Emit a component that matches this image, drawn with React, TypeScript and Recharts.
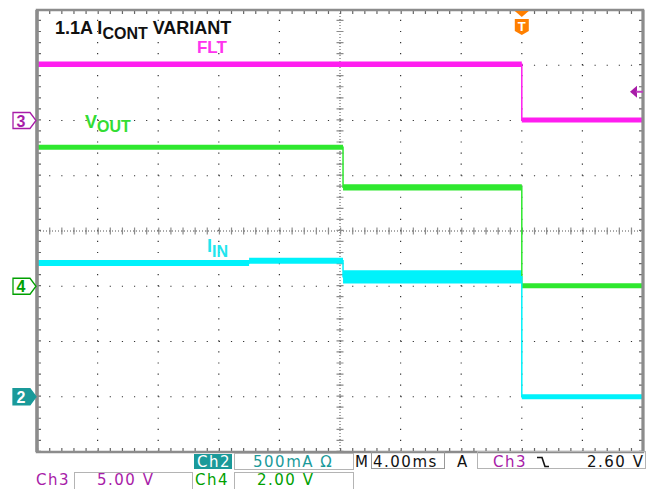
import React from "react";
import { Area, ComposedChart, Line, ReferenceArea, ReferenceDot, ReferenceLine, XAxis, YAxis } from "recharts";

// scope frame: 10 x 4 ms horizontally, 8 divisions vertically
const timeTicksMs = [0, 4, 8, 12, 16, 20, 24, 28, 32, 36, 40];
const divTicks = [0, 1, 2, 3, 4, 5, 6, 7, 8];

// Ch3 = FLT, 5 V/div, ground marker at div 6
const fltEdgesMs = [0, 32, 40];
const fltLevelsV = [5.1, 0.05];
const fltRippleV = [0.5, 0.45];

// Ch4 = VOUT, 2 V/div, ground marker at div 3
const voutEdgesMs = [0, 20.2, 32, 40];
const voutLevelsV = [5.03, 3.58, 0.02];
const voutRippleV = [0.18, 0.22, 0.18];

// Ch2 = IIN, 500 mA/div, ground marker at div 1
const iinEdgesMs = [0, 14, 20.2, 32, 40];
const iinLevelsA = [1.21, 1.23, 1.085, 0.0];
const iinRippleA = [0.055, 0.055, 0.12, 0.045];

const triggerMs = 32;
const triggerLevelV = 2.6;

const W = 659;
const H = 489;
const M = { top: 10, right: 16, bottom: 37, left: 37 };
const plotW = W - M.left - M.right;
const plotH = H - M.top - M.bottom;
const hStep = plotW / 50; // 5 minor steps per division
const vStep = plotH / 40;

const chDomain = (perDiv: number, groundDiv: number) => [-groundDiv * perDiv, (8 - groundDiv) * perDiv];

const stepData = (edges: number[], levels: number[]) =>
  edges.map((t, i) => ({ t, v: levels[Math.min(i, levels.length - 1)] }));

const bandData = (edges: number[], levels: number[], ripple: number[]) =>
  levels.map((v, i) =>
    [edges[i], edges[i + 1]].map((t) => ({ t, band: [v - ripple[i] / 2, v + ripple[i] / 2] }))
  );

const FLT = "#ff1ef0";
const GREEN = "#2fe82f";
const CYAN = "#00f2fb";
const PURPLE = "#a81ca8";
const TEAL = "#1a9a9a";
const DARKGREEN = "#00a000";
const FRAME = "#8c8c8c";
const LABEL_FONT = '"Liberation Sans", Arial, sans-serif';
const STATUS_FONT = '"DejaVu Sans", Verdana, sans-serif';

function ChannelMarker({ cx, cy, num, color, filled }: any) {
  const pts = `${cx - 24},${cy - 8} ${cx - 7},${cy - 8} ${cx - 1},${cy} ${cx - 7},${cy + 8} ${cx - 24},${cy + 8}`;
  return (
    <g>
      <polygon points={pts} fill={filled ? color : "#fff"} stroke={color} strokeWidth={1.3} />
      <text x={cx - 16} y={cy + 6} textAnchor="middle" fontFamily={LABEL_FONT} fontWeight="bold" fontSize={16} fill={filled ? "#fff" : color}>
        {num}
      </text>
    </g>
  );
}

function TriggerMark({ cx, cy }: any) {
  return (
    <g>
      <polygon points={`${cx - 7},${cy + 1} ${cx + 7},${cy + 1} ${cx},${cy + 7}`} fill="#ff7f00" />
      <path d={`M${cx - 7},${cy + 9} H${cx + 7} V${cy + 21} L${cx},${cy + 25} L${cx - 7},${cy + 21} Z`} fill="#ff7f00" />
      <text x={cx} y={cy + 21} textAnchor="middle" fontFamily={LABEL_FONT} fontWeight="bold" fontSize={13} fill="#fff">
        T
      </text>
    </g>
  );
}

function LevelArrow({ cx, cy }: any) {
  return (
    <g>
      <polygon points={`${cx - 13},${cy} ${cx - 6},${cy - 6} ${cx - 6},${cy + 6}`} fill={PURPLE} />
      <line x1={cx - 7} y1={cy} x2={cx} y2={cy} stroke="#c040c0" strokeWidth={2} />
    </g>
  );
}

function StatusBar() {
  const txt = { fontFamily: STATUS_FONT, fontSize: 15, letterSpacing: 1.5 } as const;
  const row2 = 485;
  return (
    <svg width={W} height={H} style={{ position: "absolute", left: 0, top: 0, pointerEvents: "none" }}>
      <rect x={194} y={454} width={38} height={15} fill={TEAL} />
      <text x={197} y={467} fill="#fff" {...txt}>Ch2</text>
      <rect x={234.5} y={453.5} width={119} height={16} fill="none" stroke="#b4b4b4" />
      <text x={253} y={467} fill={TEAL} {...txt}>500mA Ω</text>
      <text x={355} y={467} fill="#111" {...txt}>M</text>
      <rect x={371.5} y={451.5} width={73} height={17} fill="none" stroke="#999" />
      <text x={373} y={467} fill="#111" {...txt}>4.00ms</text>
      <text x={457} y={467} fill="#111" {...txt}>A</text>
      <rect x={477.5} y={451.5} width={168} height={17} fill="none" stroke="#b4b4b4" />
      <text x={493} y={467} fill={PURPLE} {...txt}>Ch3</text>
      <path d="M537,457.5 H542 L545,466.5 H549" fill="none" stroke="#111" strokeWidth={1.6} />
      <text x={587} y={467} fill="#111" {...txt}>2.60 V</text>

      <text x={36} y={row2} fill={PURPLE} {...txt}>Ch3</text>
      <rect x={74.5} y={472.5} width={118} height={20} fill="none" stroke="#b4b4b4" />
      <text x={97} y={row2} fill={PURPLE} {...txt}>5.00 V</text>
      <text x={195} y={row2} fill={DARKGREEN} {...txt}>Ch4</text>
      <rect x={234.5} y={472.5} width={119} height={20} fill="none" stroke="#b4b4b4" />
      <text x={257} y={row2} fill={DARKGREEN} {...txt}>2.00 V</text>
    </svg>
  );
}

export default function App() {
  const traces = [
    { id: "ch3", color: FLT, edges: fltEdgesMs, levels: fltLevelsV, ripple: fltRippleV },
    { id: "ch4", color: GREEN, edges: voutEdgesMs, levels: voutLevelsV, ripple: voutRippleV },
    { id: "ch2", color: CYAN, edges: iinEdgesMs, levels: iinLevelsA, ripple: iinRippleA },
  ];

  return (
    <div style={{ position: "absolute", left: 0, top: 0, width: W, height: H, overflow: "hidden", background: "#fff" }}>
      <ComposedChart width={W} height={H} margin={M}>
        <XAxis type="number" dataKey="t" domain={[0, 40]} ticks={timeTicksMs} hide allowDataOverflow />
        <YAxis type="number" domain={[0, 8]} ticks={divTicks} hide allowDataOverflow />
        <YAxis yAxisId="ch3" type="number" domain={chDomain(5, 6)} hide allowDataOverflow />
        <YAxis yAxisId="ch4" type="number" domain={chDomain(2, 3)} hide allowDataOverflow />
        <YAxis yAxisId="ch2" type="number" domain={chDomain(0.5, 1)} hide allowDataOverflow />

        {/* dotted graticule */}
        {divTicks.slice(1, -1).map((d) => (
          <ReferenceLine key={"gy" + d} y={d} stroke="#333" strokeWidth={1.2} strokeDasharray={`1.2 ${hStep - 1.2}`} zIndex={-100} />
        ))}
        {timeTicksMs.slice(1, -1).map((t) => (
          <ReferenceLine key={"gx" + t} x={t} stroke="#333" strokeWidth={1.2} strokeDasharray={`1.2 ${vStep - 1.2}`} zIndex={-100} />
        ))}
        <ReferenceLine y={4} stroke="#555" strokeWidth={1} strokeDasharray="1 2" zIndex={-100} />
        <ReferenceLine x={20} stroke="#555" strokeWidth={1} strokeDasharray="1 2" zIndex={-100} />
        <ReferenceLine y={4} stroke={FRAME} strokeWidth={7} strokeDasharray={`1.2 ${hStep - 1.2}`} zIndex={-100} />
        <ReferenceLine x={20} stroke={FRAME} strokeWidth={7} strokeDasharray={`1.2 ${vStep - 1.2}`} zIndex={-100} />
        {[0, 8].map((d) => (
          <ReferenceLine key={"by" + d} y={d} stroke="#666" strokeWidth={8} strokeDasharray={`1.2 ${hStep - 1.2}`} ifOverflow="hidden" zIndex={-100} />
        ))}
        {[0, 40].map((t) => (
          <ReferenceLine key={"bx" + t} x={t} stroke="#666" strokeWidth={8} strokeDasharray={`1.2 ${vStep - 1.2}`} ifOverflow="hidden" zIndex={-100} />
        ))}

        {/* traces: noise band per plateau + thin edge line */}
        {traces.flatMap((tr) =>
          bandData(tr.edges, tr.levels, tr.ripple).map((seg, i) => (
            <Area
              key={tr.id + "band" + i}
              yAxisId={tr.id}
              data={seg}
              dataKey="band"
              type="linear"
              stroke="none"
              fill={tr.color}
              fillOpacity={1}
              isAnimationActive={false}
            />
          ))
        )}
        {traces.map((tr) => (
          <Line
            key={tr.id + "line"}
            yAxisId={tr.id}
            data={stepData(tr.edges, tr.levels)}
            dataKey="v"
            type="stepAfter"
            stroke={tr.color}
            strokeWidth={1.5}
            dot={false}
            activeDot={false}
            isAnimationActive={false}
          />
        ))}

        {/* frame */}
        <ReferenceArea x1={0} x2={40} y1={0} y2={8} fill="none" stroke={FRAME} strokeWidth={2.5} ifOverflow="visible" />
        <ReferenceLine x={0} stroke={FRAME} strokeWidth={3.5} />
        <ReferenceLine x={40} stroke={FRAME} strokeWidth={3} />

        {/* markers */}
        <ReferenceDot x={0} y={0} yAxisId="ch3" r={0} ifOverflow="visible" shape={(p: any) => <ChannelMarker {...p} num="3" color={PURPLE} />} />
        <ReferenceDot x={0} y={0} yAxisId="ch4" r={0} ifOverflow="visible" shape={(p: any) => <ChannelMarker {...p} num="4" color={DARKGREEN} />} />
        <ReferenceDot x={0} y={0} yAxisId="ch2" r={0} ifOverflow="visible" shape={(p: any) => <ChannelMarker {...p} num="2" color={TEAL} filled />} />
        <ReferenceDot x={triggerMs} y={8} r={0} ifOverflow="visible" shape={(p: any) => <TriggerMark {...p} />} />
        <ReferenceDot x={40} y={triggerLevelV} yAxisId="ch3" r={0} ifOverflow="visible" shape={(p: any) => <LevelArrow {...p} />} />

        {/* annotations */}
        <ReferenceDot
          x={1.19}
          y={7.56}
          r={0}
          ifOverflow="visible"
          shape={(p: any) => (
            <text x={p.cx} y={p.cy} fontFamily={LABEL_FONT} fontWeight="bold" fontSize={18} fill="#111">
              1.1A I<tspan fontSize={16} dy={5}>CONT</tspan>
              <tspan dy={-5}> VARIANT</tspan>
            </text>
          )}
        />
        <ReferenceDot
          x={10.56}
          y={7.22}
          r={0}
          ifOverflow="visible"
          shape={(p: any) => (
            <text x={p.cx} y={p.cy} fontFamily={LABEL_FONT} fontWeight="bold" fontSize={17} fill="#ff33ee">
              FLT
            </text>
          )}
        />
        <ReferenceDot
          x={3.17}
          y={5.86}
          r={0}
          ifOverflow="visible"
          shape={(p: any) => (
            <text x={p.cx} y={p.cy} fontFamily={LABEL_FONT} fontWeight="bold" fontSize={18} fill="#33dd33">
              V<tspan fontSize={16} dy={4}>OUT</tspan>
            </text>
          )}
        />
        <ReferenceDot
          x={11.22}
          y={3.62}
          r={0}
          ifOverflow="visible"
          shape={(p: any) => (
            <text x={p.cx} y={p.cy} fontFamily={LABEL_FONT} fontWeight="bold" fontSize={18} fill="#22e5ee">
              I<tspan fontSize={16} dy={5}>IN</tspan>
            </text>
          )}
        />
      </ComposedChart>
      <StatusBar />
    </div>
  );
}
